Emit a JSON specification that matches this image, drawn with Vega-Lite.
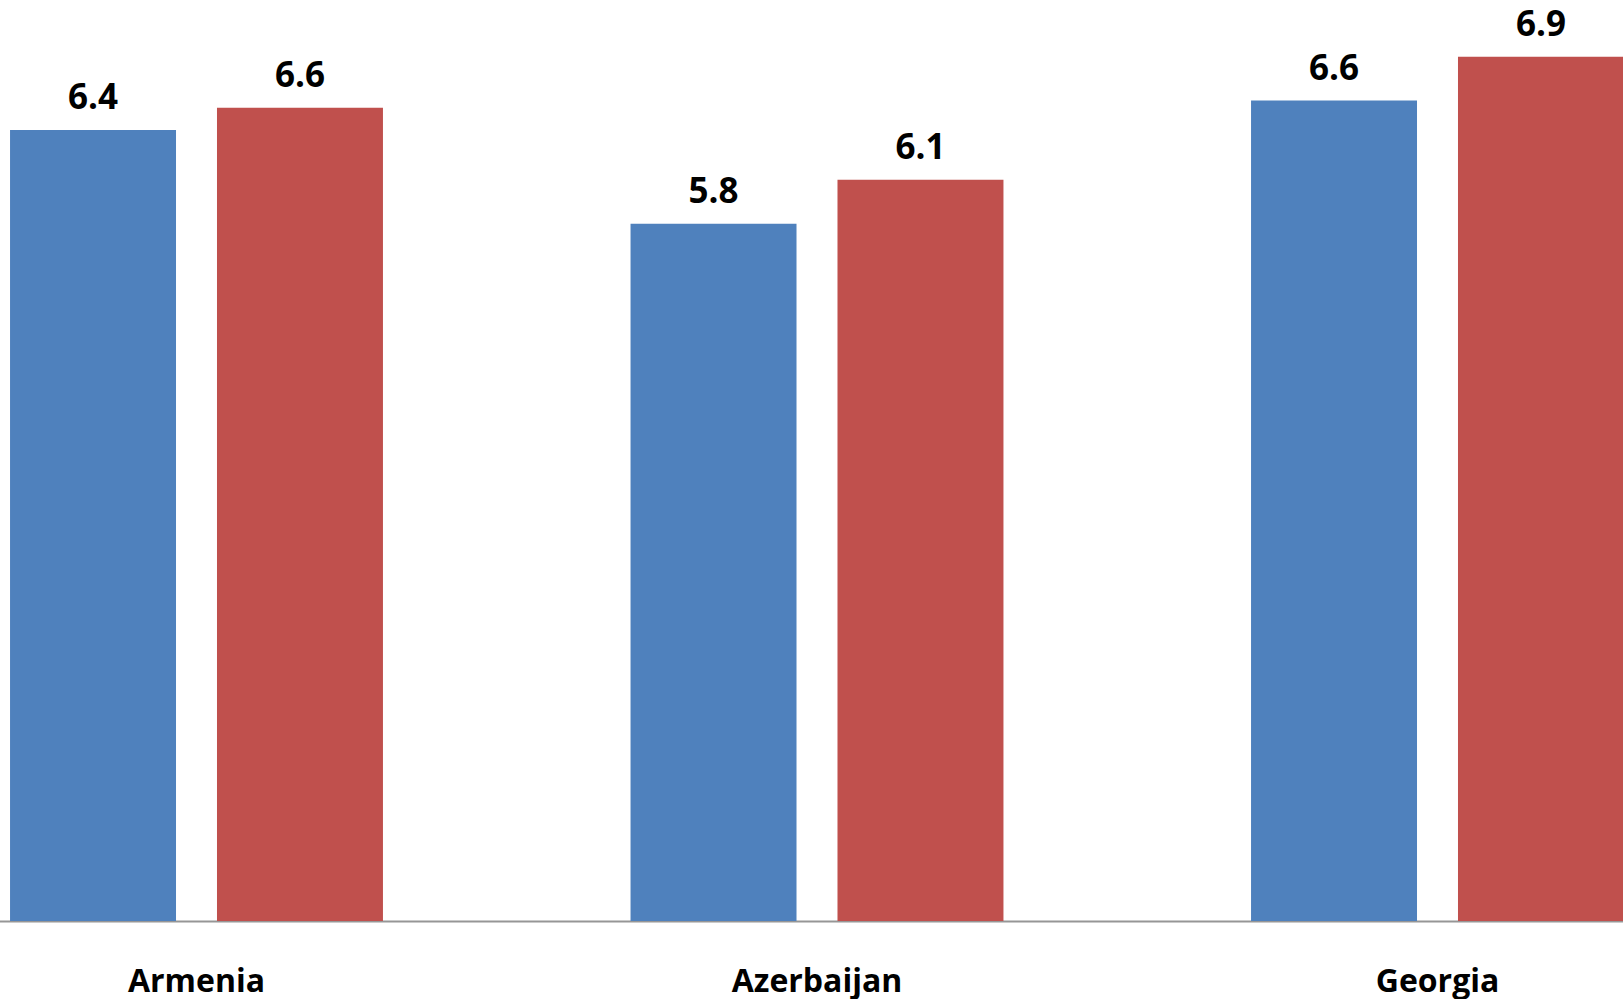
{
  "$schema": "https://vega.github.io/schema/vega-lite/v6.json",
  "width": 1623,
  "height": 921,
  "autosize": {"type": "none"},
  "padding": {"top": 0, "left": 0, "right": 0, "bottom": 78},
  "background": "white",
  "config": {"view": {"stroke": null}},
  "data": {
    "values": [
      {"country": "Armenia", "series": "A", "value": 6.40},
      {"country": "Armenia", "series": "B", "value": 6.551},
      {"country": "Azerbaijan", "series": "A", "value": 5.76},
      {"country": "Azerbaijan", "series": "B", "value": 6.06},
      {"country": "Georgia", "series": "A", "value": 6.60},
      {"country": "Georgia", "series": "B", "value": 6.90}
    ]
  },
  "encoding": {
    "x": {
      "field": "country",
      "type": "nominal",
      "sort": ["Armenia", "Azerbaijan", "Georgia"],
      "scale": {"range": [-113.75, 1747.75], "paddingInner": 0.399, "paddingOuter": 0.1995},
      "axis": {
        "title": null,
        "ticks": false,
        "grid": false,
        "labelAngle": 0,
        "labelFont": "Open Sans",
        "labelFontWeight": "bold",
        "labelFontSize": 32,
        "labelColor": "black",
        "labelBaseline": "alphabetic",
        "labelPadding": 70,
        "domainColor": "#969696",
        "domainWidth": 2
      }
    },
    "xOffset": {
      "field": "series",
      "type": "nominal",
      "scale": {"paddingInner": 0.198, "paddingOuter": 0}
    },
    "y": {
      "field": "value",
      "type": "quantitative",
      "scale": {"domain": [1, 7.2867], "zero": false, "nice": false},
      "axis": null
    }
  },
  "layer": [
    {
      "mark": {"type": "bar"},
      "encoding": {
        "y2": {"datum": 1},
        "color": {
          "field": "series",
          "type": "nominal",
          "scale": {"domain": ["A", "B"], "range": ["#4F81BD", "#C0504D"]},
          "legend": null
        }
      }
    },
    {
      "mark": {"type": "text", "baseline": "alphabetic", "dy": -21, "font": "Open Sans", "fontWeight": "bold", "fontSize": 35, "color": "black"},
      "encoding": {
        "text": {"field": "value", "type": "quantitative", "format": ".1f"}
      }
    }
  ]
}
